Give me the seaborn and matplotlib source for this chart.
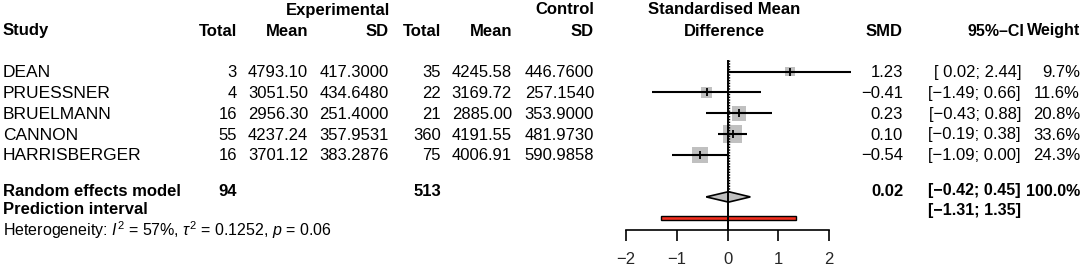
import matplotlib
matplotlib.use("Agg")
import matplotlib.pyplot as plt
from matplotlib.patches import Rectangle
import pandas as pd
import seaborn as sns

# Study data
studies = ["DEAN", "PRUESSNER", "BRUELMANN", "CANNON", "HARRISBERGER"]
exp_total = [3, 4, 16, 55, 16]
exp_mean = ["4793.10", "3051.50", "2956.30", "4237.24", "3701.12"]
exp_sd = ["417.3000", "434.6480", "251.4000", "357.9531", "383.2876"]
ctl_total = [35, 22, 21, 360, 75]
ctl_mean = ["4245.58", "3169.72", "2885.00", "4191.55", "4006.91"]
ctl_sd = ["446.7600", "257.1540", "353.9000", "481.9730", "590.9858"]
smd = [1.23, -0.41, 0.23, 0.10, -0.54]
ci_lower = [0.02, -1.49, -0.43, -0.19, -1.09]
ci_upper = [2.44, 0.66, 0.88, 0.38, 0.00]
weight = [9.7, 11.6, 20.8, 33.6, 24.3]

# Pooled results
re_est, re_lower, re_upper = 0.02, -0.42, 0.45
pi_lower, pi_upper = -1.31, 1.35
total_exp, total_ctl = 94, 513
heterogeneity = r"Heterogeneity: $I^2$ = 57%, $\tau^2$ = 0.1252, $p$ = 0.06"
x_ticks = [-2, -1, 0, 1, 2]

df = pd.DataFrame({"study": studies, "smd": smd, "lower": ci_lower,
                   "upper": ci_upper, "weight": weight})
df["row"] = range(len(df))
re_row = len(df) + 1
pi_row = len(df) + 2

sns.set_theme(style="white")
plt.rcParams["font.family"] = ["Liberation Sans", "DejaVu Sans"]
plt.rcParams["mathtext.fontset"] = "custom"
plt.rcParams["mathtext.rm"] = "Liberation Sans"
plt.rcParams["mathtext.it"] = "Liberation Sans:italic"

W, H = 1084, 270
FS = 11.5      # bold headers / labels
FS_TXT = 12.5  # study names
FS_NUM = 12    # numeric columns
fig = plt.figure(figsize=(W / 100, H / 100), dpi=100)
fig.patch.set_facecolor("white")

# layout in pixels
ROW0, ROW_H = 71.5, 20.9
PX_UNIT = 50.75
AX_LEFT, AX_RIGHT, AX_BOTTOM = 600, 860, 230

# column right edges (px)
C_ETOT, C_EMEAN, C_ESD = 237, 308, 389
C_CTOT, C_CMEAN, C_CSD = 441, 512, 594
C_SMD, C_CI, C_W = 903, 1021, 1080


def row_px(r):
    return ROW0 + ROW_H * r


def txt(x, y, s, ha="right", bold=False, size=FS):
    fig.text(x / W, 1 - y / H, s, ha=ha, va="center", fontsize=size,
             fontweight="bold" if bold else "normal", color="black")


# forest panel
ax = fig.add_axes([AX_LEFT / W, 1 - AX_BOTTOM / H, (AX_RIGHT - AX_LEFT) / W, AX_BOTTOM / H])
x0 = x_ticks[0] - (626 - AX_LEFT) / PX_UNIT
ax.set_xlim(x0, x0 + (AX_RIGHT - AX_LEFT) / PX_UNIT)
ax.set_ylim((AX_BOTTOM - ROW0) / ROW_H, -ROW0 / ROW_H)
ax.set_facecolor("none")

sns.scatterplot(data=df, x="smd", y="row", size="weight",
                sizes=(5.2 * min(weight), 5.2 * max(weight)), marker="s",
                color="#c0c0c0", edgecolor="none", linewidth=0, legend=False,
                ax=ax, zorder=2)
ax.hlines(df["row"], df["lower"], df["upper"], color="black", lw=1.5, zorder=3)
sns.scatterplot(data=df, x="smd", y="row", marker="|", s=30, color="black",
                linewidth=1.3, legend=False, ax=ax, zorder=4)

# pooled diamond and prediction interval
dh = 0.25
ax.fill([re_lower, re_est, re_upper, re_est], [re_row, re_row - dh, re_row, re_row + dh],
        facecolor="#c0c0c0", edgecolor="black", lw=1.2, zorder=3)
ax.add_patch(Rectangle((pi_lower, pi_row - 0.1), pi_upper - pi_lower, 0.2,
                       facecolor="#f22f1f", edgecolor="black", lw=1.0, zorder=3))

# reference lines
top_r = -0.55
ax.vlines(re_est, top_r, re_row - dh, color="black", lw=1.0, linestyles=(0, (1, 1)), zorder=4)
ax.vlines(0, top_r, ax.get_ylim()[0], color="black", lw=1.4, zorder=5)

for side in ["top", "left", "right"]:
    ax.spines[side].set_visible(False)
ax.spines["bottom"].set_bounds(x_ticks[0], x_ticks[-1])
ax.spines["bottom"].set_color("black")
ax.spines["bottom"].set_linewidth(1.2)
ax.set_xticks(x_ticks)
ax.set_xticklabels([str(t).replace("-", "\u2212") for t in x_ticks])
ax.tick_params(axis="x", direction="out", length=7.7, width=1.2, color="black",
               pad=8, labelsize=12, bottom=True)
ax.set_yticks([])
ax.set_xlabel("")
ax.set_ylabel("")

# column headers
FS_H = 12
txt(C_ESD + 1, 10, "Experimental", bold=True, size=FS_H)
txt(C_CSD, 10, "Control", bold=True, size=FS_H)
txt(724, 10, "Standardised Mean", ha="center", bold=True, size=FS_H)
hy = 31
txt(3, hy, "Study", ha="left", bold=True, size=FS_H)
txt(C_ETOT, hy, "Total", bold=True, size=FS_H)
txt(C_EMEAN, hy, "Mean", bold=True, size=FS_H)
txt(C_ESD, hy, "SD", bold=True, size=FS_H)
txt(C_CTOT, hy, "Total", bold=True, size=FS_H)
txt(C_CMEAN, hy, "Mean", bold=True, size=FS_H)
txt(C_CSD, hy, "SD", bold=True, size=FS_H)
txt(724, hy, "Difference", ha="center", bold=True, size=FS_H)
txt(C_SMD, hy, "SMD", bold=True, size=FS_H)
txt(C_CI + 3, hy, "95%\u2013CI", bold=True, size=FS)
txt(C_W, hy, "Weight", bold=True, size=FS)


def fmt(v):
    return f"{v:.2f}".replace("-", "\u2212")


def fmt_ci(lo, hi):
    lo_s = fmt(lo) if lo < 0 else " " + fmt(lo)
    return f"[{lo_s}; {fmt(hi)}]"


for i, row in df.iterrows():
    y = row_px(row["row"]) + 0.8
    txt(3, y, studies[i], ha="left", size=FS_TXT)
    txt(C_ETOT, y, str(exp_total[i]), size=FS_NUM)
    txt(C_EMEAN, y, exp_mean[i], size=FS_NUM)
    txt(C_ESD, y, exp_sd[i], size=FS_NUM)
    txt(C_CTOT, y, str(ctl_total[i]), size=FS_NUM)
    txt(C_CMEAN, y, ctl_mean[i], size=FS_NUM)
    txt(C_CSD, y, ctl_sd[i], size=FS_NUM)
    txt(C_SMD, y, fmt(smd[i]), size=FS_NUM)
    txt(C_CI, y, fmt_ci(ci_lower[i], ci_upper[i]), size=FS_NUM)
    txt(C_W, y, f"{weight[i]:.1f}%", size=FS_NUM)

ry = 191
txt(3, ry, "Random effects model", ha="left", bold=True, size=FS_H)
txt(C_ETOT, ry, str(total_exp), bold=True, size=FS_H)
txt(C_CTOT, ry, str(total_ctl), bold=True, size=FS_H)
txt(C_SMD, ry, fmt(re_est), bold=True, size=FS_H)
txt(C_CI, ry, fmt_ci(re_lower, re_upper), bold=True, size=FS)
txt(C_W, ry, f"{sum(weight):.1f}%", bold=True, size=FS)

py = 210
txt(3, py, "Prediction interval", ha="left", bold=True, size=FS_H)
txt(C_CI, py, fmt_ci(pi_lower, pi_upper), bold=True, size=FS)

txt(3, 230, heterogeneity, ha="left", size=11.5)

fig.savefig("out.png", dpi=100, facecolor="white")
